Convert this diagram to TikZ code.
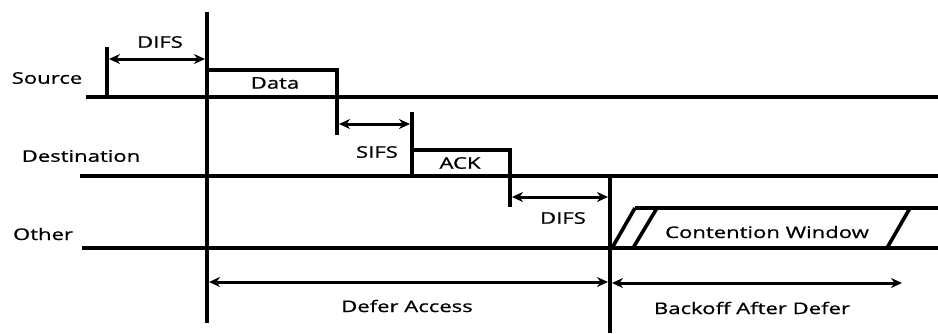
\documentclass[tikz,border=0pt]{standalone}
\usepackage{fontspec}
\setmainfont{Open Sans}[FakeStretch=1.38,FakeBold=0.8]
\usetikzlibrary{arrows.meta}
\begin{document}
\begin{tikzpicture}[x=1pt,y=-1pt,
  lane/.style={line width=3.6pt},
  bar/.style={line width=4.4pt},
  span/.style={line width=3pt,{Stealth[length=11pt,width=10pt]}-{Stealth[length=11pt,width=10pt]}},
  lbl/.style={font=\fontsize{16}{19}\selectfont, text=black, inner sep=0pt}]
\useasboundingbox (0,0) rectangle (938,333);
% coordinates
\coordinate (s0) at (86,97);  \coordinate (s1) at (938,97);
\coordinate (d0) at (80,176); \coordinate (d1) at (938,176);
\coordinate (o0) at (82,248); \coordinate (o1) at (938,248);
\coordinate (m0) at (207,12); \coordinate (m1) at (207,323);
\coordinate (t0) at (107,47); \coordinate (t1) at (107,97);
\coordinate (e0) at (610,176); \coordinate (e1) at (610,333);
% lanes
\draw[lane] (s0) -- (s1);
\draw[lane] (d0) -- (d1);
\draw[lane] (o0) -- (o1);
% verticals
\draw[bar] (m0) -- (m1);
\draw[bar] (t0) -- (t1);
\draw[bar] (e0) -- (e1);
% data box
\draw[bar] (207,70) -- (337,70) -- (337,135);
% SIFS tick and ACK box
\draw[bar] (412,112) -- (412,177);
\draw[bar] (412,150) -- (510,150) -- (510,207);
% contention window
\draw[lane] (635,208) -- (938,208);
\draw[lane] (612,248) -- (635,208);
\draw[lane] (633,248) -- (657,208);
\draw[lane] (887,248) -- (910,208);
% spans
\draw[span] (109,59) -- (205,59);
\draw[span] (339,124) -- (410,124);
\draw[span] (512,197) -- (608,197);
\draw[span] (209,282) -- (608,282);
\draw[span] (612,283) -- (902,283);
% labels
\node[lbl] (src) at (47,78) {Source};
\node[lbl] (dst) at (81,156) {Destination};
\node[lbl] (oth) at (43,234) {Other};
\node[lbl] (difs1) at (160,42) {DIFS};
\node[lbl] (data) at (275,83) {Data};
\node[lbl] (sifs) at (377,152) {SIFS};
\node[lbl] (ack) at (460,163) {ACK};
\node[lbl] (difs2) at (563,218) {DIFS};
\node[lbl] (cw) at (767,232) {Contention Window};
\node[lbl] (defer) at (407,306) {Defer Access};
\node[lbl] (back) at (752,308) {Backoff After Defer};
\end{tikzpicture}
\end{document}
